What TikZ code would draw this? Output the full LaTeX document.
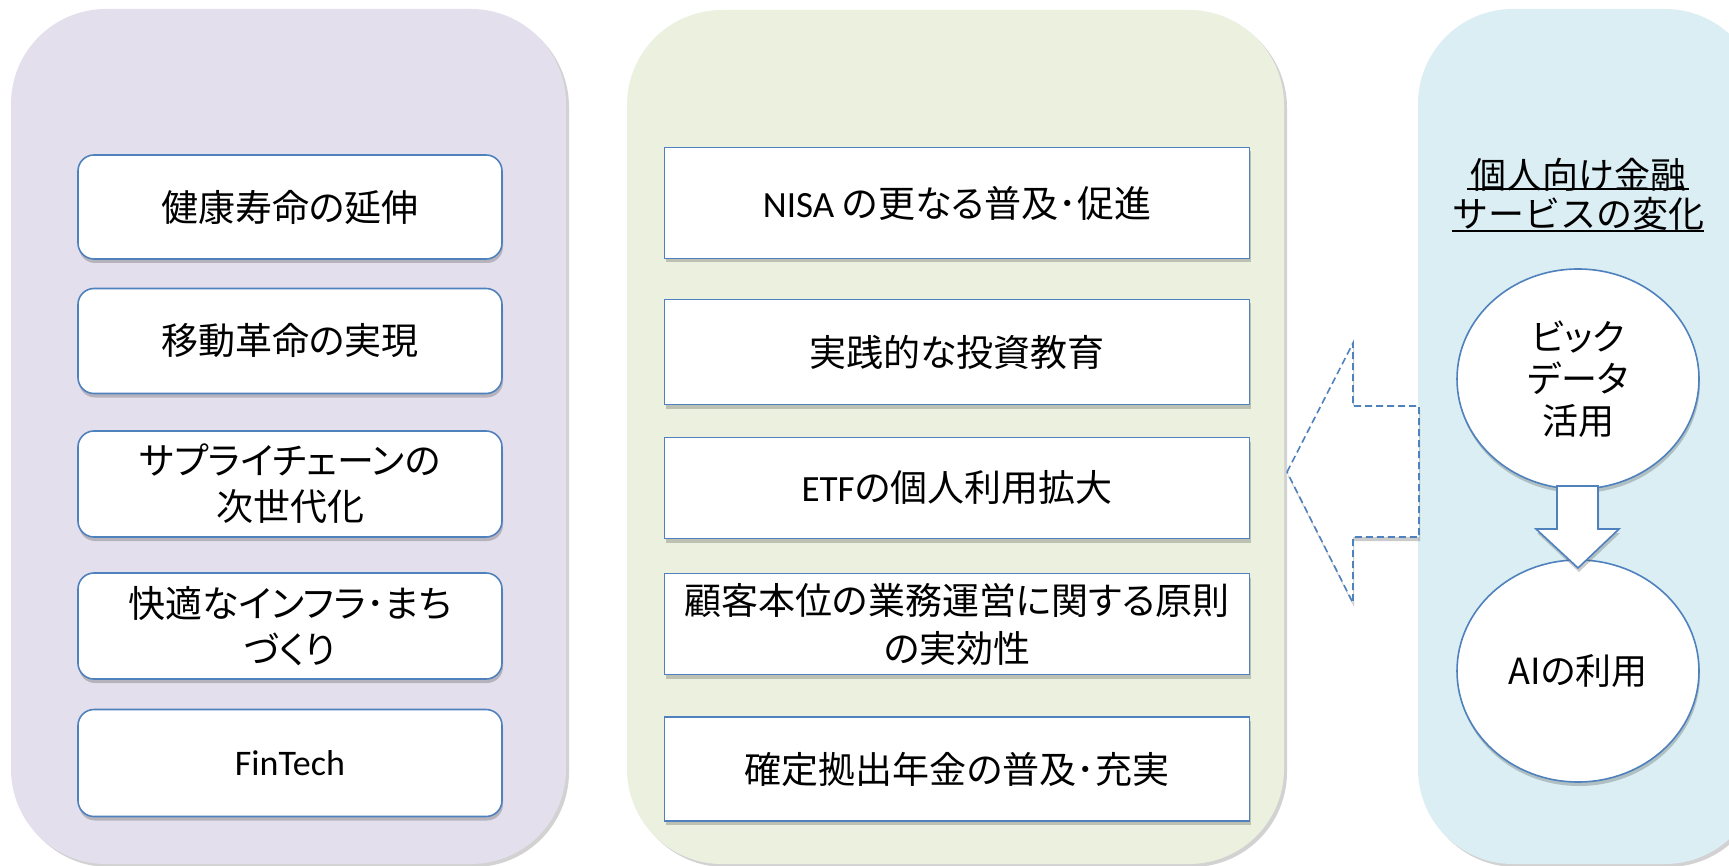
\documentclass[tikz,border=0pt]{standalone}
\usepackage{fontspec}
\usetikzlibrary{shapes.geometric,shadows,calc}
\newfontfamily\jp[RawFeature=+palt]{Noto Sans CJK JP}
\newfontfamily\jpm{Noto Sans CJK JP}
\newfontfamily\lat{Carlito}
\definecolor{panelL}{HTML}{E4DFEC}
\definecolor{panelM}{HTML}{EBF1DE}
\definecolor{panelR}{HTML}{DAEEF3}
\definecolor{boxblue}{HTML}{4F81BD}
\tikzset{
  panel/.style={rounded corners=95pt, draw=none,
    drop shadow={shadow xshift=3pt, shadow yshift=-3pt, opacity=0.25, fill=black!70}},
  boxshadow/.style={drop shadow={shadow xshift=1pt, shadow yshift=-4pt, opacity=0.25, fill=black!80}},
  lbox/.style={draw=boxblue, line width=1.6pt, fill=white, rounded corners=16pt,
    minimum width=424pt, inner sep=0pt, align=center, boxshadow,
    font=\jp\fontsize{37}{46}\selectfont},
  mbox/.style={draw=boxblue, line width=1.6pt, fill=white,
    minimum width=585pt, inner sep=0pt, align=center, boxshadow,
    font=\jp\fontsize{37}{48}\selectfont},
  oval/.style={ellipse, draw=boxblue, line width=1.6pt, fill=white, inner sep=0pt,
    minimum width=242pt, align=center, boxshadow,
    font=\jp\fontsize{36}{42}\selectfont},
  titletext/.style={inner sep=0pt, font=\jpm\fontsize{36}{42}\selectfont},
  blockarrow/.style={draw=boxblue, line width=1.6pt, fill=white, line join=miter, boxshadow},
}
\begin{document}
\begin{tikzpicture}[x=1pt,y=-1pt]
\clip (0,0) rectangle (1729,866);
\fill[white] (0,0) rectangle (1729,866);
% panels
\fill[panel, fill=panelL] (11,9) rectangle (566,864);
\fill[panel, fill=panelM] (627,10) rectangle (1284,864);
\fill[panel, fill=panelR] (1418,9) rectangle (1760,864);
% left column
\node[lbox, minimum height=104pt] (l1) at (290,207) {健康寿命の延伸};
\node[lbox, minimum height=105pt] (l2) at (290,341) {移動革命の実現};
\node[lbox, minimum height=106pt] (l3) at (290,484) {サプライチェーンの\\次世代化};
\node[lbox, minimum height=106pt] (l4) at (290,626) {快適なインフラ･まち\\づくり};
\node[lbox, minimum height=107pt, font=\lat\fontsize{36}{44}\selectfont] (l5) at (290,763) {FinTech};
% middle column
\node[mbox, minimum height=111pt] (m1) at (957,203) {{\lat NISA} の更なる普及･促進};
\node[mbox, minimum height=105pt] (m2) at (957,352) {実践的な投資教育};
\node[mbox, minimum height=101pt] (m3) at (957,488) {{\lat ETF}の個人利用拡大};
\node[mbox, minimum height=101pt] (m4) at (957,624) {顧客本位の業務運営に関する原則\\の実効性};
\node[mbox, minimum height=104pt] (m5) at (957,769) {確定拠出年金の普及･充実};
% big dashed arrow
\draw[blockarrow, dash pattern=on 7pt off 4pt]
  (1287,472) -- (1353,343) -- (1353,406) -- (1419,406) -- (1419,537)
  -- (1353,537) -- (1353,603) -- cycle;
% right column
\node[titletext] (t1) at (1578,175) {個人向け金融};
\node[titletext] (t2) at (1578,214) {サービスの変化};
\draw[line width=1.4pt] ($(t1.center)+(-111,14)$) coordinate (u1a) -- ($(t1.center)+(111,14)$) coordinate (u1b);
\draw[line width=1.4pt] ($(t2.center)+(-126,17)$) coordinate (u2a) -- ($(t2.center)+(126,17)$) coordinate (u2b);
\node[oval, minimum height=220pt] (c1) at (1578,379) {ビック\\データ\\活用};
\node[oval, minimum height=222pt] (c2) at (1578,671) {AIの利用};
\draw[blockarrow]
  (1557,486) -- (1598,486) -- (1598,529) -- (1619,529) -- (1578,568)
  -- (1536,529) -- (1557,529) -- cycle;
\end{tikzpicture}
\end{document}
